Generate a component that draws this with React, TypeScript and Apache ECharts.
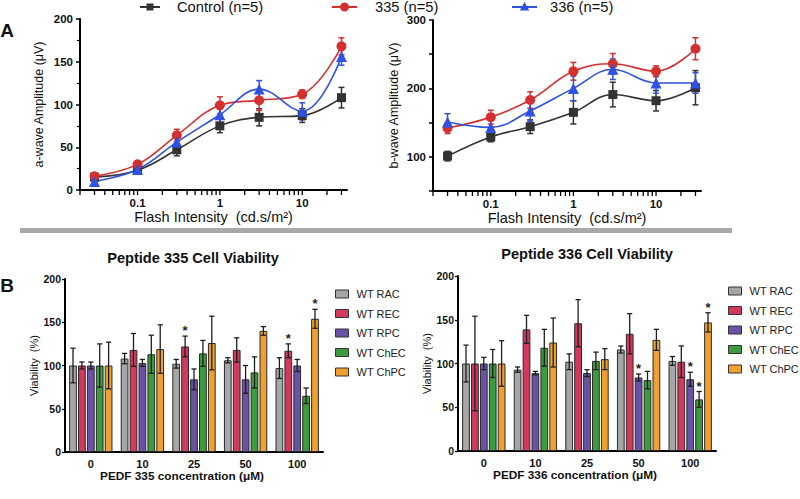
import React, { useEffect, useRef } from 'react';
import * as echarts from 'echarts';

// ---------- Panel A data ----------
const intensities = [0.03, 0.1, 0.3, 1, 3, 10, 30];
const logTicks = [0.02, 0.03, 0.04, 0.05, 0.06, 0.07, 0.08, 0.09, 0.1, 0.2, 0.3, 0.4, 0.5, 0.6, 0.7, 0.8, 0.9, 1, 2, 3, 4, 5, 6, 7, 8, 9, 10, 20, 30];

const aControl = [15, 23, 47, 75, 85, 87, 108];
const aControlErr = [3, 3, 7, 8, 10, 8, 12];
const a335 = [16, 30, 64, 99, 105, 112, 168];
const a335Err = [3, 3, 7, 10, 12, 5, 10];
const a336 = [10, 24, 56, 88, 118, 92, 156];
const a336Err = [3, 4, 6, 10, 10, 10, 10];

const bControl = [101, 129, 144, 165, 191, 182, 201];
const bControlErr = [7, 7, 10, 17, 18, 15, 25];
const b335 = [142, 158, 183, 225, 236, 225, 258];
const b335Err = [8, 10, 12, 13, 15, 8, 16];
const b336 = [151, 143, 167, 200, 228, 208, 208];
const b336Err = [12, 10, 15, 18, 15, 15, 15];

const groupNames = ['Control (n=5)', '335 (n=5)', '336 (n=5)'];

// ---------- Panel B data ----------
const concentrations = ['0', '10', '25', '50', '100'];
const cellTypes = ['WT RAC', 'WT REC', 'WT RPC', 'WT ChEC', 'WT ChPC'];

const p335RAC = [100, 108, 102, 106, 97];
const p335RACErr = [20, 6, 5, 3, 12];
const p335REC = [100, 118, 122, 118, 117];
const p335RECErr = [4, 19, 12, 14, 8];
const p335RPC = [100, 103, 84, 84, 100];
const p335RPCErr = [4, 4, 12, 16, 7];
const p335ChEC = [100, 113, 114, 92, 65];
const p335ChECErr = [25, 22, 15, 18, 9];
const p335ChPC = [100, 119, 126, 140, 154];
const p335ChPCErr = [27, 28, 31, 5, 11];
const p335Stars = [
  [0, 0, 0, 0, 0],
  [0, 0, 1, 0, 1],
  [0, 0, 0, 0, 0],
  [0, 0, 0, 0, 0],
  [0, 0, 0, 0, 1],
];

const p336RAC = [100, 93, 102, 116, 103];
const p336RACErr = [21, 3, 9, 4, 5];
const p336REC = [100, 139, 146, 134, 102];
const p336RECErr = [54, 16, 27, 23, 18];
const p336RPC = [100, 89, 89, 84, 82];
const p336RPCErr = [7, 2, 4, 4, 8];
const p336ChEC = [100, 118, 103, 81, 59];
const p336ChECErr = [16, 21, 10, 10, 9];
const p336ChPC = [100, 124, 105, 127, 147];
const p336ChPCErr = [26, 28, 12, 12, 11];
const p336Stars = [
  [0, 0, 0, 0, 0],
  [0, 0, 0, 0, 0],
  [0, 0, 0, 1, 1],
  [0, 0, 0, 0, 1],
  [0, 0, 0, 0, 1],
];

const FONT = 'Arial, "Liberation Sans", sans-serif';
const lineColors = ['#333333', '#d43030', '#2f52e0'];
const lineSymbols = ['rect', 'circle', 'triangle'];
const lineSymbolSizes = [9, 10, 11];
const barColors = ['#a6a6a6', '#d2395a', '#6a52a6', '#3e9a3e', '#f0a030'];

const BAR_CAT_GAP = 0.16;
const BAR_GAP = 0.15;

function majorLabel(v: number): string {
  const l = Math.log10(v);
  if (Math.abs(l - Math.round(l)) < 1e-6 && v > 0.05 && v < 20) {
    return v < 1 ? '0.1' : String(Math.round(v));
  }
  return '';
}

function errRender(color: string, capHalf: number, lw: number) {
  return (params: any, api: any) => {
    const x = api.value(0);
    const m = api.value(1);
    const e = api.value(2);
    const top = api.coord([x, m + e]);
    const bot = api.coord([x, m - e]);
    const st = { stroke: color, lineWidth: lw };
    return {
      type: 'group',
      children: [
        { type: 'line', shape: { x1: top[0], y1: top[1], x2: bot[0], y2: bot[1] }, style: st },
        { type: 'line', shape: { x1: top[0] - capHalf, y1: top[1], x2: top[0] + capHalf, y2: top[1] }, style: st },
        { type: 'line', shape: { x1: bot[0] - capHalf, y1: bot[1], x2: bot[0] + capHalf, y2: bot[1] }, style: st },
      ],
    };
  };
}

function barErrRender(k: number, n: number) {
  return (params: any, api: any) => {
    const ci = api.value(0);
    const m = api.value(1);
    const e = api.value(2);
    const star = api.value(3);
    const band = api.size([1, 0])[0];
    const groupW = band * (1 - BAR_CAT_GAP);
    const barW = groupW / (n + (n - 1) * BAR_GAP);
    const off = -groupW / 2 + k * barW * (1 + BAR_GAP) + barW / 2;
    const top = api.coord([ci, m + e]);
    const bot = api.coord([ci, m - e]);
    const cx = top[0] + off;
    const st = { stroke: '#1e1e1e', lineWidth: 1.3 };
    const cap = 2.6;
    const children: any[] = [
      { type: 'line', shape: { x1: cx, y1: top[1], x2: cx, y2: bot[1] }, style: st },
      { type: 'line', shape: { x1: cx - cap, y1: top[1], x2: cx + cap, y2: top[1] }, style: st },
      { type: 'line', shape: { x1: cx - cap, y1: bot[1], x2: cx + cap, y2: bot[1] }, style: st },
    ];
    if (star) {
      children.push({
        type: 'text',
        x: cx,
        y: top[1] + 1,
        style: {
          text: '*', fontSize: 13, fontWeight: 'bold', fill: '#222', fontFamily: FONT,
          align: 'center', verticalAlign: 'bottom', textAlign: 'center', textVerticalAlign: 'bottom',
        },
      });
    }
    return { type: 'group', children };
  };
}

function tickRender(params: any, api: any) {
  const p = api.coord([api.value(0), api.value(1)]);
  return {
    type: 'line',
    shape: { x1: p[0], y1: p[1] + 1, x2: p[0], y2: p[1] + 5 },
    style: { stroke: '#000', lineWidth: 1.3 },
  };
}

function buildOption(): any {
  const aMeans = [aControl, a335, a336];
  const aErrs = [aControlErr, a335Err, a336Err];
  const bMeans = [bControl, b335, b336];
  const bErrs = [bControlErr, b335Err, b336Err];

  const series: any[] = [];

  // Panel A
  [[aMeans, aErrs, 0, 0], [bMeans, bErrs, 1, 50]].forEach(([means, errs, gi, ymin]: any) => {
    series.push({
      type: 'custom', name: 'ticks' + gi, xAxisIndex: gi, yAxisIndex: gi, silent: true,
      renderItem: tickRender, encode: { x: 0, y: 1 },
      data: logTicks.map((v) => [v, ymin]), z: 3,
    });
    for (let s = 0; s < 3; s++) {
      series.push({
        type: 'custom', name: groupNames[s] + ' err', xAxisIndex: gi, yAxisIndex: gi, silent: true,
        renderItem: errRender(lineColors[s], 3, 1.5), encode: { x: 0, y: 1 },
        data: intensities.map((x, i) => [x, means[s][i], errs[s][i]]), z: 2,
      });
    }
    for (let s = 0; s < 3; s++) {
      series.push({
        type: 'line', name: groupNames[s], xAxisIndex: gi, yAxisIndex: gi,
        data: intensities.map((x, i) => [x, means[s][i]]),
        smooth: 0.4, symbol: lineSymbols[s], symbolSize: lineSymbolSizes[s], showSymbol: true,
        lineStyle: { color: lineColors[s], width: 1.6 },
        itemStyle: { color: lineColors[s] }, z: 3,
      });
    }
  });

  // Panel B
  const panel335Means = [p335RAC, p335REC, p335RPC, p335ChEC, p335ChPC];
  const panel335Errs = [p335RACErr, p335RECErr, p335RPCErr, p335ChECErr, p335ChPCErr];
  const panel336Means = [p336RAC, p336REC, p336RPC, p336ChEC, p336ChPC];
  const panel336Errs = [p336RACErr, p336RECErr, p336RPCErr, p336ChECErr, p336ChPCErr];
  [[panel335Means, panel335Errs, p335Stars, 2], [panel336Means, panel336Errs, p336Stars, 3]].forEach(([data, errs, stars, gi]: any) => {
    for (let k = 0; k < 5; k++) {
      series.push({
        type: 'bar', name: cellTypes[k], xAxisIndex: gi, yAxisIndex: gi,
        data: data[k], barCategoryGap: '16%', barGap: '15%',
        itemStyle: { color: barColors[k], borderColor: '#2a2a2a', borderWidth: 1 },
      });
    }
    for (let k = 0; k < 5; k++) {
      series.push({
        type: 'custom', name: cellTypes[k] + ' err', xAxisIndex: gi, yAxisIndex: gi, silent: true,
        renderItem: barErrRender(k, 5), encode: { x: 0, y: 1 },
        data: concentrations.map((c, i) => [i, data[k][i], errs[k][i], stars[k][i]]), z: 5,
      });
    }
  });

  const axisLineStyle = { show: true, onZero: false, lineStyle: { color: '#000', width: 2 } };

  const logX = (gi: number) => ({
    type: 'log', gridIndex: gi, min: 0.02, max: 35, logBase: 10,
    axisLine: axisLineStyle, axisTick: { show: false }, splitLine: { show: false },
    axisLabel: { formatter: majorLabel, fontWeight: 'bold', fontSize: 11.5, color: '#111', margin: 7, fontFamily: FONT },
    name: 'Flash Intensity  (cd.s/m²)', nameLocation: 'middle', nameGap: 19,
    nameTextStyle: { fontSize: 14.5, color: '#111', fontFamily: FONT },
  });

  const catX = (gi: number, name: string) => ({
    type: 'category', gridIndex: gi, data: concentrations,
    axisLine: axisLineStyle, axisTick: { show: false },
    axisLabel: { fontWeight: 'bold', fontSize: 11, color: '#111', margin: 6, fontFamily: FONT },
    name, nameLocation: 'middle', nameGap: 18,
    nameTextStyle: { fontSize: 11.8, fontWeight: 'bold', color: '#111', fontFamily: FONT, padding: [0, 24, 0, 0] },
  });

  const barY = (gi: number) => ({
    type: 'value', gridIndex: gi, min: 0, max: 200, interval: 50,
    axisLine: axisLineStyle, axisTick: { show: true, length: 3, lineStyle: { color: '#000', width: 1.3 } },
    splitLine: { show: false },
    axisLabel: { fontWeight: 'bold', fontSize: 10.5, color: '#111', margin: 4, fontFamily: FONT },
    name: 'Viability  (%)', nameLocation: 'middle', nameGap: gi === 2 ? 24 : 23,
    nameTextStyle: { fontSize: 11, color: '#111', fontFamily: FONT },
  });

  const legendBase = {
    orient: 'vertical', data: cellTypes, icon: 'rect', itemWidth: 13, itemHeight: 8, itemGap: 7.5,
    selectedMode: false,
    itemStyle: { borderColor: '#333', borderWidth: 1 },
    textStyle: { fontSize: 11, color: '#222', fontFamily: FONT, lineHeight: 12, padding: [0, 0, 0, 3] },
  };

  const tri = (cx: number, cy: number, r: number) => [[cx, cy - r], [cx + r * 0.95, cy + r * 0.7], [cx - r * 0.95, cy + r * 0.7]];

  const legendTop = [
    { x1: 140, x2: 160, text: 'Control (n=5)', tx: 177 },
    { x1: 332, x2: 357, text: '335 (n=5)', tx: 375 },
    { x1: 512, x2: 537, text: '336 (n=5)', tx: 550 },
  ];
  const LY = 7;
  const graphics: any[] = [];
  legendTop.forEach((L, s) => {
    graphics.push({ type: 'line', shape: { x1: L.x1, y1: LY, x2: L.x2, y2: LY }, style: { stroke: lineColors[s], lineWidth: 2 } });
    const cx = (L.x1 + L.x2) / 2;
    if (s === 0) graphics.push({ type: 'rect', shape: { x: cx - 3.5, y: LY - 3.5, width: 7, height: 7 }, style: { fill: lineColors[s] } });
    if (s === 1) graphics.push({ type: 'circle', shape: { cx, cy: LY, r: 4.5 }, style: { fill: lineColors[s] } });
    if (s === 2) graphics.push({ type: 'polygon', shape: { points: tri(cx, LY, 5) }, style: { fill: lineColors[s] } });
    graphics.push({
      type: 'text', x: L.tx, y: LY,
      style: { text: L.text, fontSize: 14.7, fill: '#111', fontFamily: FONT, align: 'left', verticalAlign: 'middle', textVerticalAlign: 'middle' },
    });
  });
  graphics.push({ type: 'rect', shape: { x: 20, y: 228, width: 712, height: 5 }, style: { fill: '#a9a9a9' } });
  graphics.push({ type: 'text', x: 7, y: 30, style: { text: 'A', fontSize: 19, fontWeight: 'bold', fill: '#111', fontFamily: FONT, align: 'center', verticalAlign: 'middle', textAlign: 'center', textVerticalAlign: 'middle' } });
  graphics.push({ type: 'text', x: 7, y: 285, style: { text: 'B', fontSize: 19, fontWeight: 'bold', fill: '#111', fontFamily: FONT, align: 'center', verticalAlign: 'middle', textAlign: 'center', textVerticalAlign: 'middle' } });
  graphics.push({ type: 'text', x: 193, y: 258, style: { text: 'Peptide 335 Cell Viability', fontSize: 14.6, fontWeight: 'bold', fill: '#111', fontFamily: FONT, align: 'center', verticalAlign: 'middle', textAlign: 'center', textVerticalAlign: 'middle' } });
  graphics.push({ type: 'text', x: 587, y: 254, style: { text: 'Peptide 336 Cell Viability', fontSize: 14.6, fontWeight: 'bold', fill: '#111', fontFamily: FONT, align: 'center', verticalAlign: 'middle', textAlign: 'center', textVerticalAlign: 'middle' } });

  return {
    animation: false,
    backgroundColor: '#ffffff',
    textStyle: { fontFamily: FONT },
    grid: [
      { left: 80, top: 19, width: 267, height: 171 },
      { left: 433, top: 20, width: 268, height: 171 },
      { left: 65, top: 279, width: 258, height: 173 },
      { left: 458, top: 276, width: 258, height: 175 },
    ],
    xAxis: [logX(0), logX(1), catX(2, 'PEDF 335 concentration (μM)'), catX(3, 'PEDF 336 concentration (μM)')],
    yAxis: [
      {
        type: 'value', gridIndex: 0, min: 0, max: 200, interval: 50,
        axisLine: axisLineStyle, axisTick: { show: true, length: 4, lineStyle: { color: '#000', width: 1.5 } },
        minorTick: { show: true, splitNumber: 2, length: 3, lineStyle: { color: '#000', width: 1.2 } },
        splitLine: { show: false },
        axisLabel: { fontWeight: 'bold', fontSize: 11.5, color: '#111', margin: 7, fontFamily: FONT },
        name: 'a-wave Amplitude (μV)', nameLocation: 'middle', nameGap: 35,
        nameTextStyle: { fontSize: 12.5, color: '#111', fontFamily: FONT },
      },
      {
        type: 'value', gridIndex: 1, min: 50, max: 300, interval: 50,
        axisLine: axisLineStyle, axisTick: { show: true, length: 4, lineStyle: { color: '#000', width: 1.5 } },
        splitLine: { show: false },
        axisLabel: { formatter: (v: number) => (v % 100 === 0 ? String(v) : ''), fontWeight: 'bold', fontSize: 11.5, color: '#111', margin: 7, fontFamily: FONT },
        name: 'b-wave Amplitude (μV)', nameLocation: 'middle', nameGap: 33,
        nameTextStyle: { fontSize: 12.5, color: '#111', fontFamily: FONT },
      },
      barY(2),
      barY(3),
    ],
    legend: [
      { ...legendBase, left: 330, top: 283 },
      { ...legendBase, left: 723, top: 280 },
    ],
    graphic: graphics,
    series,
  };
}

export default function App() {
  const ref = useRef<HTMLDivElement>(null);
  useEffect(() => {
    if (!ref.current) return;
    const chart = echarts.init(ref.current, null, { renderer: 'svg' });
    chart.setOption(buildOption());
    return () => chart.dispose();
  }, []);
  return (
    <div
      ref={ref}
      style={{ position: 'fixed', left: 0, top: 0, width: 800, height: 499, background: '#fff' }}
    />
  );
}
